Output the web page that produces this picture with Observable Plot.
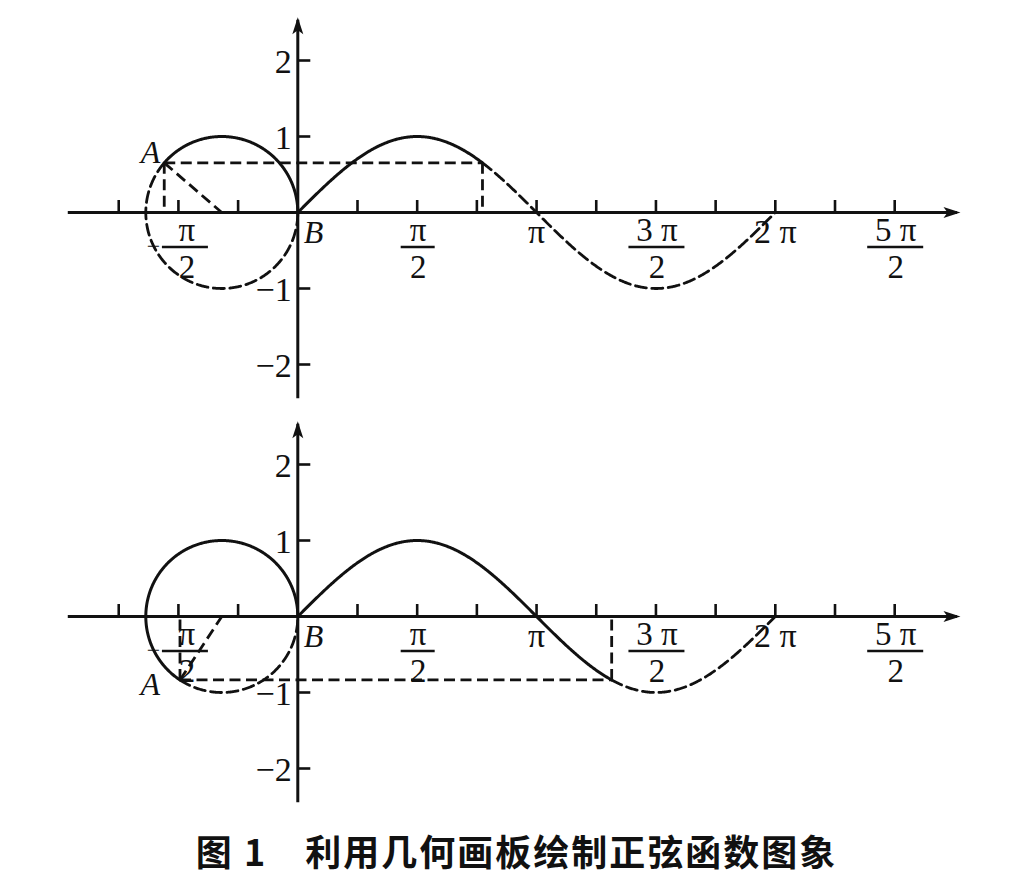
<!DOCTYPE html>
<html>
<head>
<meta charset="utf-8">
<script src="https://cdn.jsdelivr.net/npm/d3@7"></script>
<script src="https://cdn.jsdelivr.net/npm/@observablehq/plot@0.6"></script>
<style>
  html, body { margin: 0; padding: 0; background: #fff; }
  #wrap { width: 1033px; }
  #wrap svg { display: block; }
  #caption {
    width: 1033px; height: 60px; padding-top: 24px;
    font-family: "Noto Sans CJK SC", sans-serif; font-weight: 700;
    font-size: 36px; line-height: 36px; letter-spacing: 2px;
    text-align: center; color: #111; white-space: pre;
  }
</style>
</head>
<body>
<div id="wrap"></div>
<div id="caption">图 1　利用几何画板绘制正弦函数图象</div>
<script>
// ---------- data ----------
// panels (top, bottom): arc length / angle of point A on the unit circle
const panelNames = ["top", "bottom"];
const angleA = [2.43, 4.13];
// rolling unit circle: centre and radius
const circleCenter = [-1, 0];
const circleRadius = 1;
// axis extents (data units)
const xAxisExtent = [-3.02, 8.68];
const yAxisExtent = [-2.45, 2.53];
// x ticks at multiples of π/4
const xTickSteps = [-3, -2, -1, 1, 2, 3, 4, 5, 6, 7, 8, 9, 10];
// y ticks
const yTicks = [-2, -1, 1, 2];
const yTickLabels = ["−2", "−1", "1", "2"];
// x labels at multiples of π
const xLabelPos = [-0.5, 0.5, 1, 1.5, 2, 2.5];
const xLabelNum = ["π", "π", "π", "3 π", "2 π", "5 π"];
const xLabelDen = ["2", "2", "", "2", "", "2"];
const xLabelSign = ["−", "", "", "", "", ""];
const pointNames = ["A", "B"];

// ---------- layout ----------
const PX = 76;            // pixels per unit (both axes)
const W = 1033, H = 404;
const X0 = 297.3, Y0 = 212;
const xDomain = [-X0 / PX, (W - X0) / PX];
const yDomain = [(Y0 - H) / PX, Y0 / PX];
const serif = "'Liberation Serif', 'Times New Roman', serif";
const ink = "#111";
const FS = 34;
const FSF = 33;   // fraction labels

const labels = xLabelPos.map((p, i) => ({
  x: p * Math.PI, num: xLabelNum[i], den: xLabelDen[i], sign: xLabelSign[i],
  frac: xLabelDen[i] ? xLabelNum[i] + "\n" + xLabelDen[i] : xLabelNum[i]
}));

const arrowRight = { draw(ctx) { ctx.moveTo(3, 0); ctx.lineTo(-14, -5.5); ctx.lineTo(-10, 0); ctx.lineTo(-14, 5.5); ctx.closePath(); } };
const arrowUp = { draw(ctx) { ctx.moveTo(0, -3); ctx.lineTo(-5.5, 14); ctx.lineTo(0, 10); ctx.lineTo(5.5, 14); ctx.closePath(); } };

function sample(a, b, f) {
  const n = Math.max(2, Math.ceil(Math.abs(b - a) / 0.01));
  return d3.range(n + 1).map(k => f(a + (b - a) * k / n));
}
const sineF = t => ({ x: t, y: Math.sin(t) });
const circF = t => ({ x: circleCenter[0] + circleRadius * Math.cos(t), y: circleCenter[1] + circleRadius * Math.sin(t) });

function makePanel(i) {
  const tA = angleA[i];
  const A = circF(tA);
  const P = sineF(tA);
  const solidStyle = { stroke: ink, strokeWidth: 3, strokeLinejoin: "round" };
  const dashStyle = { stroke: ink, strokeWidth: 2.8, strokeDasharray: "11,5.5" };
  const guides = [
    { x1: A.x, y1: A.y, x2: P.x, y2: P.y },                       // horizontal A → sine point
    { x1: P.x, y1: P.y, x2: P.x, y2: 0 },                         // vertical from sine point
    { x1: A.x, y1: A.y, x2: A.x, y2: 0 },                         // vertical from A
    { x1: A.x, y1: A.y, x2: circleCenter[0], y2: circleCenter[1] } // radius
  ];
  const fracLabels = labels.filter(d => d.den && !d.sign);
  const negLabels = labels.filter(d => d.sign);
  const plainLabels = labels.filter(d => !d.den);
  const halfBar = d => (d.num.length > 1 ? 28 : 17) / PX;
  const txt = { fontFamily: serif, fontSize: FS, fill: ink };
  const frac = { fontFamily: serif, fontSize: FSF, fill: ink, lineAnchor: "bottom", lineHeight: 1.11 };

  return Plot.plot({
    width: W, height: H, margin: 0,
    x: { domain: xDomain, axis: null },
    y: { domain: yDomain, axis: null },
    style: { background: "white", overflow: "visible" },
    marks: [
      // axes
      Plot.ruleY([0], { x1: xAxisExtent[0], x2: xAxisExtent[1], stroke: ink, strokeWidth: 3 }),
      Plot.ruleX([0], { y1: yAxisExtent[0], y2: yAxisExtent[1], stroke: ink, strokeWidth: 3 }),
      Plot.ruleX(xTickSteps, { x: k => k * Math.PI / 4, y1: 0, y2: 12 / PX, stroke: ink, strokeWidth: 2.6 }),
      Plot.ruleY(yTicks, { y: d => d, x1: 0, x2: 13 / PX, stroke: ink, strokeWidth: 2.6 }),
      Plot.dot([{ x: xAxisExtent[1], y: 0 }], { x: "x", y: "y", symbol: arrowRight, r: 8, fill: ink, stroke: "none" }),
      Plot.dot([{ x: 0, y: yAxisExtent[1] }], { x: "x", y: "y", symbol: arrowUp, r: 8, fill: ink, stroke: "none" }),
      // circle and sine: solid up to A, dashed after
      Plot.line(sample(0, tA, circF), { x: "x", y: "y", ...solidStyle }),
      Plot.line(sample(tA, 2 * Math.PI, circF), { x: "x", y: "y", ...dashStyle }),
      Plot.line(sample(0, tA, sineF), { x: "x", y: "y", ...solidStyle }),
      Plot.line(sample(tA, 2 * Math.PI, sineF), { x: "x", y: "y", ...dashStyle }),
      // dashed guide lines
      Plot.link(guides, { x1: "x1", y1: "y1", x2: "x2", y2: "y2", ...dashStyle }),
      // y tick labels
      Plot.text(yTicks, { x: 0, y: d => d, text: (d, j) => yTickLabels[j], textAnchor: "end", lineAnchor: "bottom", dx: -6, dy: 12.5, ...txt }),
      // x labels: fractions (numerator over denominator)
      Plot.text(fracLabels, { x: "x", y: 0, text: "frac", dx: 1, dy: 65, ...frac }),
      Plot.ruleY(fracLabels, { y: 0, x1: d => d.x - halfBar(d), x2: d => d.x + halfBar(d), dx: 1, dy: 34.5, stroke: ink, strokeWidth: 2.5 }),
      // x label: negative fraction
      Plot.text(negLabels, { x: "x", y: 0, text: "frac", dx: 8.5, dy: 65, ...frac }),
      Plot.ruleY(negLabels, { y: 0, x1: d => d.x - 16 / PX, x2: d => d.x + 30 / PX, dx: 0, dy: 34.5, stroke: ink, strokeWidth: 2.5 }),
      Plot.text(negLabels, { x: "x", y: 0, text: "sign", lineAnchor: "bottom", textAnchor: "end", dx: -18, dy: 41.5, ...txt, fontSize: 24 }),
      // x labels: plain
      Plot.text(plainLabels, { x: "x", y: 0, text: "frac", lineAnchor: "bottom", dx: 0, dy: 30, ...txt }),
      // point labels
      Plot.text([A], { x: "x", y: "y", text: () => pointNames[0], textAnchor: "end", lineAnchor: "bottom", dx: i === 0 ? -4 : -20, dy: i === 0 ? 0 : 15, ...txt, fontStyle: "italic", fontSize: 32 }),
      Plot.text([{ x: 0, y: 0 }], { x: "x", y: "y", text: () => pointNames[1], textAnchor: "start", lineAnchor: "bottom", dx: 6, dy: 30, ...txt, fontStyle: "italic", fontSize: 32 })
    ]
  });
}

const wrap = document.getElementById("wrap");
panelNames.forEach((name, i) => wrap.appendChild(makePanel(i)));
</script>
</body>
</html>
